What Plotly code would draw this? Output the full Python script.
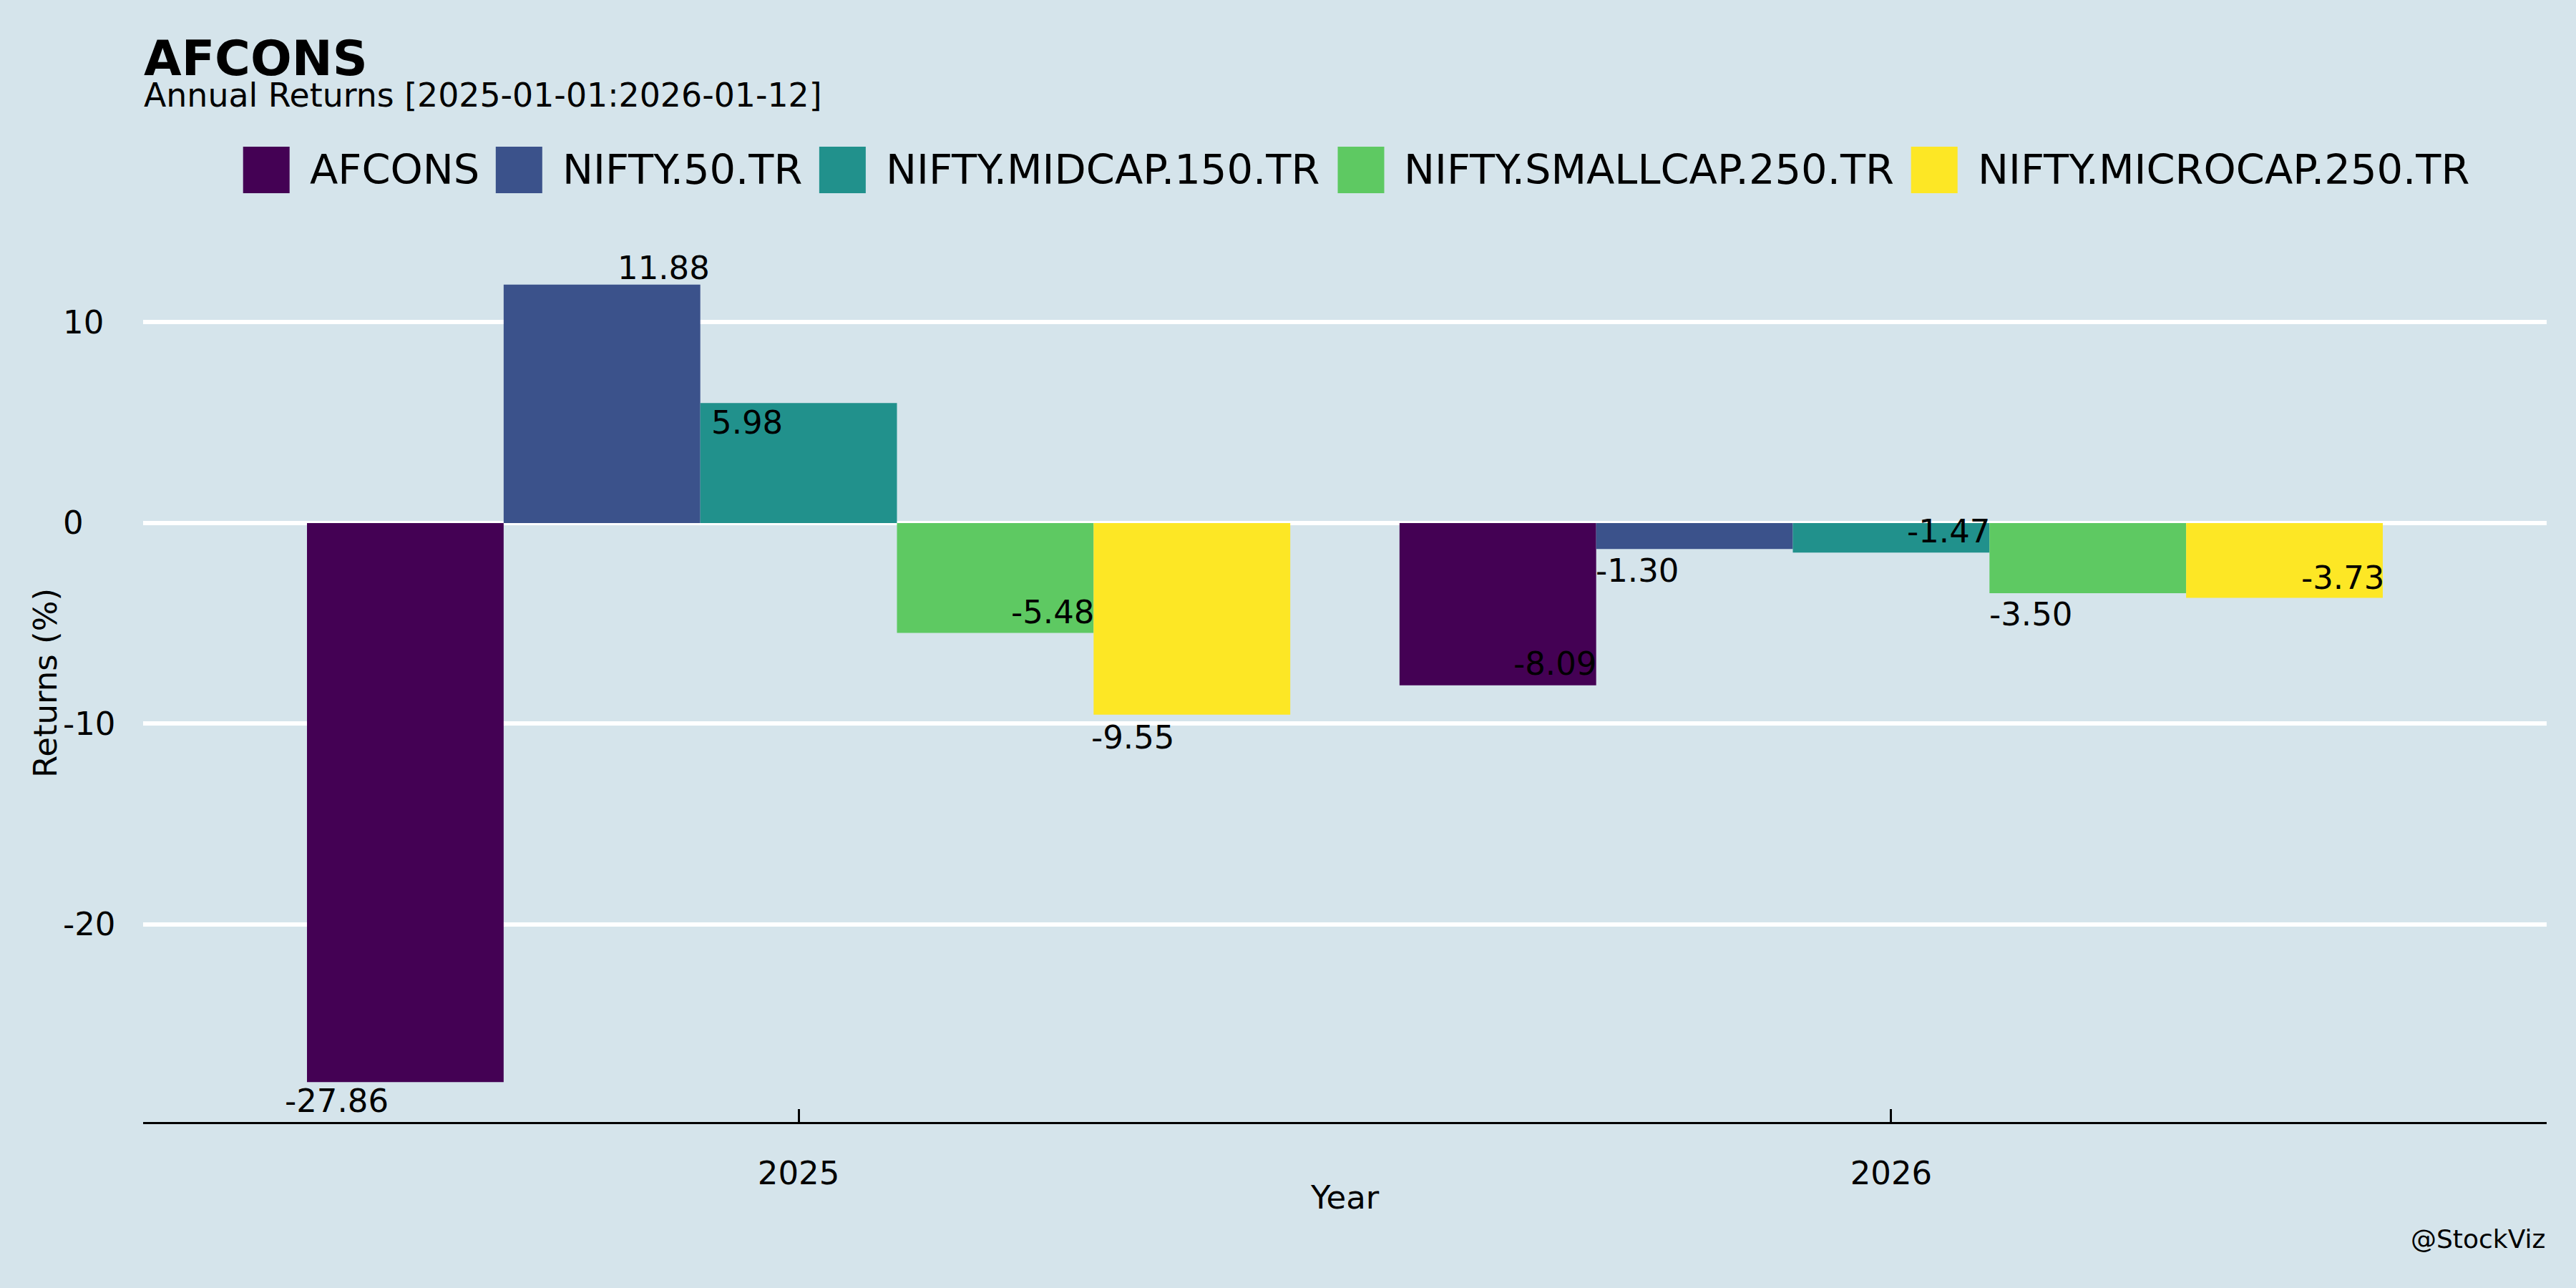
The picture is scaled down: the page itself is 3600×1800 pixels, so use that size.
import plotly.graph_objects as go

# ---------------- data ----------------
years = ["2025", "2026"]
series = ["AFCONS", "NIFTY.50.TR", "NIFTY.MIDCAP.150.TR", "NIFTY.SMALLCAP.250.TR", "NIFTY.MICROCAP.250.TR"]
returns_afcons = [-27.86, -8.09]
returns_nifty50 = [11.88, -1.30]
returns_midcap150 = [5.98, -1.47]
returns_smallcap250 = [-5.48, -3.50]
returns_microcap250 = [-9.55, -3.73]
y_ticks = [-20, -10, 0, 10]
title_text = "AFCONS"
subtitle_text = "Annual Returns [2025-01-01:2026-01-12]"
credit_text = "@StockViz"

values = [returns_afcons, returns_nifty50, returns_midcap150, returns_smallcap250, returns_microcap250]

# ---------------- style ----------------
colors = ["#440154", "#3b528b", "#21918c", "#5ec962", "#fde725"]
BG = "#d5e4eb"
FONT = "DejaVu Sans"
W, H = 3600, 1800
ML, MR, MT, MB = 200, 41, 341.5, 232
PW, PH = W - ML - MR, H - MT - MB
BARGAP = 0.1
# label nudges (px, right / down) for each label, per series then per year (repel-style placement)
label_dx = [[-96, 80], [86, -80], [-72, 80], [80, -80], [-83, 81]]
label_dy = [[26, -30], [-23.5, 30], [27, -30], [-29, 29], [32, -28]]

def px_x(px):
    return (px - ML) / PW

def px_y(py):
    return (H - MB - py) / PH

fig = go.Figure()
for name, vals, col in zip(series, values, colors):
    fig.add_trace(go.Bar(x=years, y=vals, name=name, marker=dict(color=col, line=dict(width=0)),
                         showlegend=False))

allv = [v for vals in values for v in vals]
lo, hi = min(allv), max(allv)
span = hi - lo
yrange = [lo - 0.05 * span, hi + 0.05 * span]

annotations = []
# bar value labels
n = len(series)
group_w = 1 - BARGAP
bar_w = group_w / n
for j, vals in enumerate(values):
    for i, v in enumerate(vals):
        xpos = i - group_w / 2 + bar_w * (j + 0.5)
        annotations.append(dict(x=xpos, y=v, xref="x", yref="y", text=f"{v:.2f}", showarrow=False,
                                xanchor="center", yanchor="middle",
                                xshift=label_dx[j][i], yshift=-label_dy[j][i],
                                font=dict(family=FONT, size=45, color="black")))

# y tick labels (left aligned)
for t in y_ticks:
    annotations.append(dict(x=0, y=t, xref="paper", yref="y", text=str(t), showarrow=False,
                            xanchor="left", yanchor="middle", xshift=-114,
                            font=dict(family=FONT, size=45, color="black")))

# axis titles
annotations.append(dict(x=0, y=0.5, xref="paper", yref="paper", text="Returns (%)", showarrow=False,
                        textangle=-90, xanchor="center", yanchor="middle", xshift=-137,
                        font=dict(family=FONT, size=45, color="black")))
annotations.append(dict(x=0.5, y=0, xref="paper", yref="paper", text="Year", showarrow=False,
                        xanchor="center", yanchor="middle", yshift=-105,
                        font=dict(family=FONT, size=45, color="black")))
annotations.append(dict(x=1, y=0, xref="paper", yref="paper", text=credit_text, showarrow=False,
                        xanchor="right", yanchor="middle", yshift=-163,
                        font=dict(family=FONT, size=36, color="black")))
# title / subtitle
annotations.append(dict(x=0, y=px_y(81), xref="paper", yref="paper", text=f"<b>{title_text}</b>",
                        showarrow=False, xanchor="left", yanchor="middle", borderpad=0,
                        font=dict(family=FONT, size=68, color="black")))
annotations.append(dict(x=0, y=px_y(132), xref="paper", yref="paper", text=subtitle_text,
                        showarrow=False, xanchor="left", yanchor="middle", borderpad=0,
                        font=dict(family=FONT, size=45.8, color="black")))

# ---------------- manual legend ----------------
CW = {"A": .684, "F": .575, "C": .698, "O": .787, "N": .748, "S": .635, "I": .295, "T": .611,
      "Y": .611, ".": .318, "0": .636, "1": .636, "2": .636, "5": .636, "R": .695, "M": .863,
      "D": .770, "P": .603, "L": .557}
KERN = {"Y.": -0.08, "TY": -0.04, ".T": -0.04}

def text_w(s, size):
    w = sum(CW.get(c, 0.6) for c in s)
    w += sum(KERN.get(s[k:k + 2], 0) for k in range(len(s) - 1))
    return w * size

LEG_FS = 57.5       # rendered legend font size
LEG_LAYOUT_FS = 56  # size used for spacing estimate
SQ = 65
GAP_ST = 27
GAP_ITEM = 30
LEG_CY = 237
widths = [SQ + GAP_ST + text_w(s, LEG_LAYOUT_FS) for s in series]
total = sum(widths) + GAP_ITEM * (len(series) - 1)
cx = 1892
x = cx - total / 2
shapes = []
for s, col, w in zip(series, colors, widths):
    shapes.append(dict(type="rect", xref="paper", yref="paper",
                       x0=px_x(x), x1=px_x(x + SQ), y0=px_y(LEG_CY + SQ / 2), y1=px_y(LEG_CY - SQ / 2),
                       fillcolor=col, line=dict(width=0), layer="above"))
    annotations.append(dict(x=px_x(x + SQ + GAP_ST), y=px_y(LEG_CY), xref="paper", yref="paper",
                            text=s, showarrow=False, xanchor="left", yanchor="middle", borderpad=0,
                            font=dict(family=FONT, size=LEG_FS, color="black")))
    x += w + GAP_ITEM

fig.update_layout(
    width=W, height=H,
    margin=dict(l=ML, r=MR, t=MT, b=MB, pad=0),
    paper_bgcolor=BG, plot_bgcolor=BG,
    barmode="group", bargap=BARGAP, bargroupgap=0,
    font=dict(family=FONT, size=45, color="black"),
    showlegend=False,
    annotations=annotations,
    shapes=shapes,
    xaxis=dict(type="category", range=[-0.6, 1.6], showgrid=False, zeroline=False,
               showline=True, linecolor="black", linewidth=3,
               ticks="inside", ticklen=18, tickwidth=3, tickcolor="black",
               tickfont=dict(family=FONT, size=45, color="black"), ticklabelstandoff=30),
    yaxis=dict(range=yrange, tickvals=y_ticks, showticklabels=False, showgrid=True,
               gridcolor="white", gridwidth=6, zeroline=False, showline=False, ticks=""),
)

fig.write_html("out.html", config={"displayModeBar": False},
               post_script="document.body.style.margin='0px';document.body.style.background='%s';" % BG)
